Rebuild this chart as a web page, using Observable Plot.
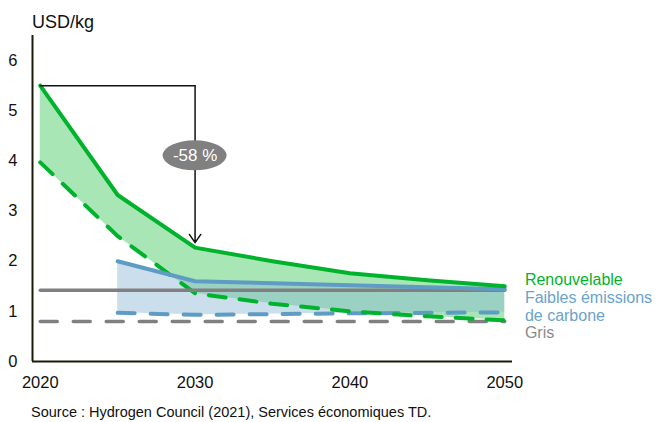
<!DOCTYPE html>
<html>
<head>
<meta charset="utf-8">
<script src="https://cdn.jsdelivr.net/npm/d3@7"></script>
<script src="https://cdn.jsdelivr.net/npm/@observablehq/plot@0.6"></script>
<style>
  body { margin: 0; background: #fff; font-family: "Liberation Sans", Arial, sans-serif; }
  #title { height: 18px; padding-top: 12px; font-size: 18px; padding-left: 32px; line-height: 20px; color: #111; }
  #source { font-size: 14.5px; padding-left: 31px; color: #111; line-height: 20px; }
  svg { display: block; }
</style>
</head>
<body>
<div id="title">USD/kg</div>
<div id="chart"></div>
<div id="source">Source : Hydrogen Council (2021), Services économiques TD.</div>
<script>
// Renouvelable (green): high (solid) and low (dashed)
const renYears = [2020, 2025, 2030, 2035, 2040, 2045, 2050];
const renHigh  = [5.5, 3.32, 2.27, 2.0, 1.76, 1.62, 1.5];
const renLow   = [3.97, 2.5, 1.36, 1.15, 1.0, 0.9, 0.82];
// Faibles émissions de carbone (blue)
const lowYears = [2025, 2030, 2040, 2050];
const lowHigh  = [2.0, 1.6, 1.52, 1.44];
const lowLow   = [0.97, 0.93, 0.96, 0.98];
// Gris (gray)
const grisYears = [2020, 2050];
const grisHigh  = [1.42, 1.42];
const grisLow   = [0.8, 0.8];
// Annotation
const annotText = "-58 %";
const annotStart = [2020, 5.5];
const annotEnd = [2030, 2.37];
const annotLabelY = 4.1;
// Legend
const legendLabels = ["Renouvelable", "Faibles émissions", "de carbone", "Gris"];
const legendY = [1.62, 1.26, 0.9, 0.58];
const legendColors = ["#00b32c", "#6aa3cb", "#6aa3cb", "#8a8a8a"];
const xTicks = [2020, 2030, 2040, 2050];
const yTicks = [0, 1, 2, 3, 4, 5, 6];

const green = "#00b32c", greenFill = "#a9e6b5";
const blue = "#5f9cc4", blueFill = "#8ab8d2";
const gray = "#808080";
const axisColor = "#1a1a0a";

const ren = renYears.map((x, i) => ({x, hi: renHigh[i], lo: renLow[i]}));
const low = lowYears.map((x, i) => ({x, hi: lowHigh[i], lo: lowLow[i]}));
const gris = grisYears.map((x, i) => ({x, hi: grisHigh[i], lo: grisLow[i]}));
const legend = legendLabels.map((t, i) => ({t, y: legendY[i], c: legendColors[i]}));

const dash = "17,16";

const chart = Plot.plot({
  width: 655,
  height: 372,
  marginLeft: 32,
  marginRight: 143,
  marginTop: 5,
  marginBottom: 41,
  style: {fontFamily: "Liberation Sans, Arial, sans-serif", fontSize: "16.5px", color: "#111"},
  x: {domain: [2019.5, 2050.5], ticks: xTicks, tickFormat: d => String(d), tickSize: 0, tickPadding: 15, label: null},
  y: {domain: [0, 6.5], ticks: yTicks, tickFormat: d => String(d), tickSize: 0, tickPadding: 15, label: null},
  marks: [
    Plot.areaY(ren, {x: "x", y1: "lo", y2: "hi", fill: greenFill}),
    Plot.areaY(low, {x: "x", y1: "lo", y2: "hi", fill: blueFill, fillOpacity: 0.45}),
    Plot.line(gris, {x: "x", y: "lo", stroke: gray, strokeWidth: 3.5, strokeDasharray: dash, strokeLinecap: "round"}),
    Plot.line(low, {x: "x", y: "lo", stroke: blue, strokeWidth: 4, strokeDasharray: dash, strokeLinecap: "round"}),
    Plot.line(ren, {x: "x", y: "lo", stroke: green, strokeWidth: 4, strokeDasharray: "17,14", strokeLinecap: "round"}),
    Plot.line(gris, {x: "x", y: "hi", stroke: gray, strokeWidth: 3.5}),
    Plot.line(low, {x: "x", y: "hi", stroke: blue, strokeWidth: 4, strokeLinecap: "round"}),
    Plot.line(ren, {x: "x", y: "hi", stroke: green, strokeWidth: 4, strokeLinecap: "round"}),
    // annotation bracket
    Plot.line([{x: annotStart[0], y: annotStart[1]}, {x: annotEnd[0], y: annotStart[1]}], {x: "x", y: "y", stroke: "#111", strokeWidth: 1.5}),
    Plot.arrow([{x1: annotEnd[0], y1: annotStart[1], x2: annotEnd[0], y2: annotEnd[1]}], {x1: "x1", y1: "y1", x2: "x2", y2: "y2", stroke: "#111", strokeWidth: 1.5, headLength: 10, headAngle: 70, insetEnd: 0}),
    Plot.dot([{x: annotEnd[0], y: annotLabelY}], {x: "x", y: "y", r: 1, fill: gray, stroke: null, render: (index, scales, values, dims, ctx) => {
      const g = d3.create("svg:g");
      const cx = values.x[0], cy = values.y[0];
      g.append("ellipse").attr("cx", cx).attr("cy", cy).attr("rx", 32).attr("ry", 15).attr("fill", gray);
      return g.node();
    }}),
    Plot.text([{x: annotEnd[0], y: annotLabelY}], {x: "x", y: "y", text: () => annotText, fill: "white", fontSize: 17}),
    // axes lines
    Plot.ruleX([2019.5], {y1: 0, y2: 6.5, stroke: axisColor, strokeWidth: 2}),
    Plot.ruleY([0], {x1: 2019.5, x2: 2050.5, stroke: axisColor, strokeWidth: 2}),
    // legend
    Plot.text(legend, {x: () => 2051.3, y: "y", text: "t", fill: "c", textAnchor: "start", fontSize: 16, clip: false})
  ]
});
document.getElementById("chart").appendChild(chart);
</script>
</body>
</html>
